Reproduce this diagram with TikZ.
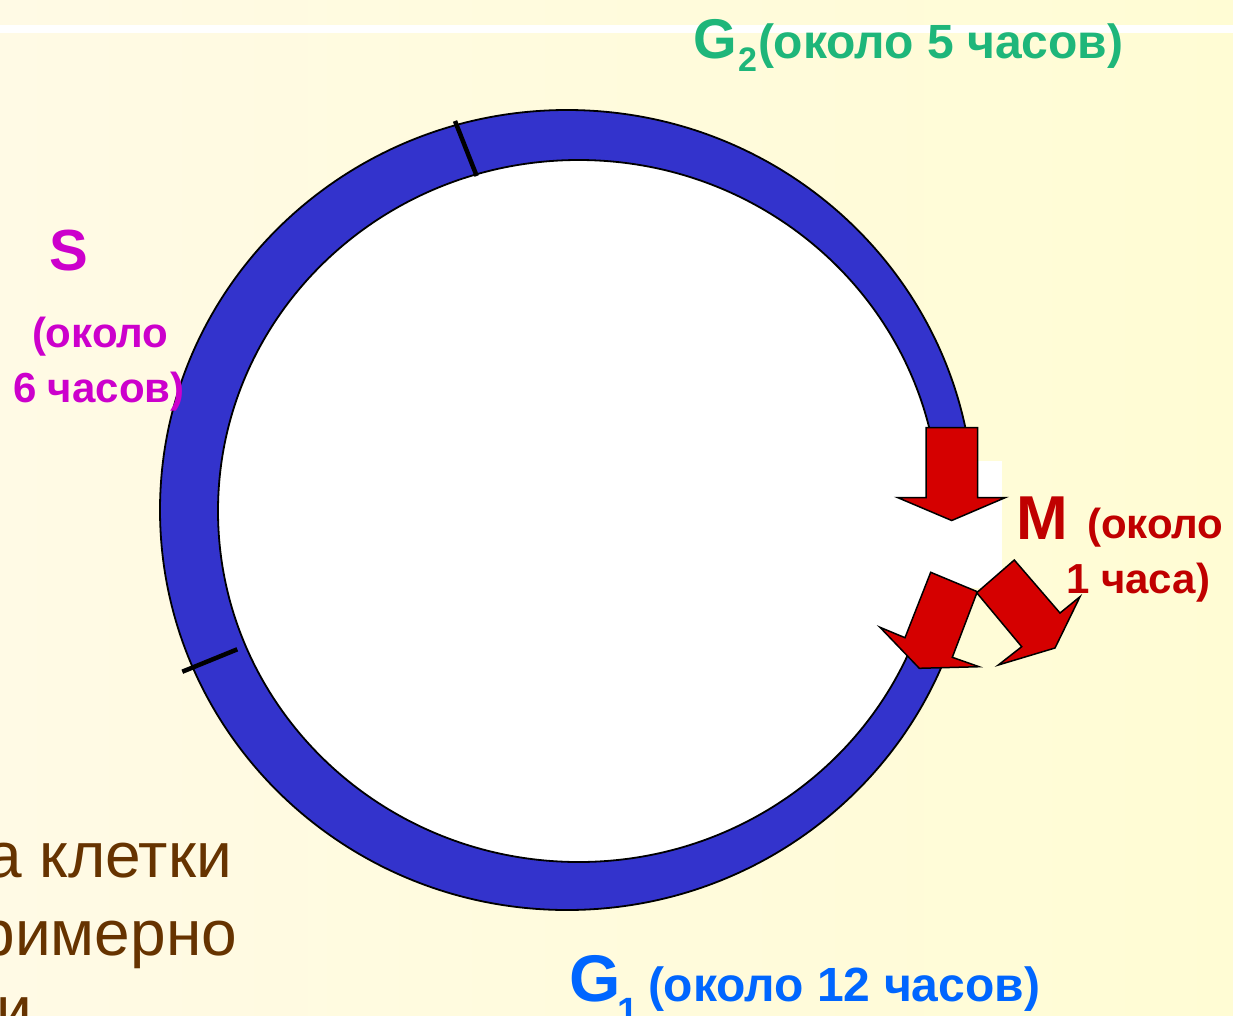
\documentclass[tikz,border=0pt]{standalone}
\usepackage{fontspec}
\setmainfont{Liberation Sans}
\definecolor{bgleft}{RGB}{255,250,229}
\definecolor{bgright}{RGB}{255,252,212}
\definecolor{ringblue}{RGB}{51,51,204}
\definecolor{arrowred}{RGB}{213,0,0}
\definecolor{gtwo}{RGB}{30,182,122}
\definecolor{sviolet}{RGB}{204,0,204}
\definecolor{mred}{RGB}{192,0,0}
\definecolor{gone}{RGB}{0,102,255}
\definecolor{brown}{RGB}{102,51,0}
\tikzset{
  lbl/.style={inner sep=0pt, outer sep=0pt, font=\bfseries},
  brn/.style={inner sep=0pt, outer sep=0pt, text=brown, font=\fontsize{64}{70}\selectfont},
  redarrow/.style={fill=arrowred, draw=black, line width=1.5pt, line join=miter},
  tick/.style={draw=black, line width=4.5pt}
}
\newcommand{\fsz}[1]{\fontsize{#1}{#1}\selectfont}
\begin{document}
\begin{tikzpicture}[x=1pt,y=-1pt]
\useasboundingbox (0,0) rectangle (1233,1015);
% background
\shade[left color=bgleft, right color=bgright] (0,0) rectangle (1233,1015);
\fill[white] (0,25) rectangle (1233,33);
% brown text, cut by the page edge
\begin{scope}
\clip (0,0) rectangle (1233,1015);
\node[brn, anchor=base east] (t1) at (232,877) {а клетки};
\node[brn, anchor=base east] (t2) at (237,955) {примерно};
\node[brn, anchor=base east] (t3) at (32,1031) {и};
\end{scope}
% ring
\draw[fill=ringblue, draw=black, line width=1.8pt] (567,510) ellipse [x radius=407pt, y radius=400pt];
\draw[fill=white, draw=black, line width=1.8pt] (578.7,511) ellipse [x radius=360.7pt, y radius=351pt];
% phase ticks
\draw[tick] (455,121) -- (476.7,176);
\draw[tick] (182.3,671.7) -- (237.3,649.3);
% white patch behind M arrows
\fill[white] (880,461) rectangle (1002,588);
% arrows
\draw[redarrow] (926,427.5) -- (977.5,427.5) -- (977.5,497.5) -- (1005.5,497.5) -- (951.7,520.5) -- (897.5,497.5) -- (926,497.5) -- cycle;
\draw[redarrow] (930.7,572.3) -- (977.3,591.7) -- (952.3,657.3) -- (979,666.7) -- (919.3,668.3) -- (880,627.3) -- (905,637.7) -- cycle;
\draw[redarrow] (1014.3,560) -- (1060,613) -- (1080,596.7) -- (1055,648) -- (998.3,665) -- (1021.7,646.7) -- (976.7,592.7) -- cycle;
% labels
\node[lbl, text=gtwo, anchor=base west] (g2G) at (693,58) {\fsz{56}G};
\node[lbl, text=gtwo, anchor=base west] (g2s) at (738,71) {\fsz{34}2};
\node[lbl, text=gtwo, anchor=base west] (g2t) at (758,58) {\fsz{48}(около 5 часов)};
\node[lbl, text=sviolet, anchor=base] (sS) at (69,270) {\fsz{58}S};
\node[lbl, text=sviolet, anchor=base west] (s1) at (32,347) {\fsz{42}(около};
\node[lbl, text=sviolet, anchor=base west] (s2) at (13,402) {\fsz{42}6 часов)};
\node[lbl, text=mred, anchor=base west] (mM) at (1016,539) {\fsz{62}M};
\node[lbl, text=mred, anchor=base west] (m1) at (1087,538) {\fsz{42}(около};
\node[lbl, text=mred, anchor=base west] (m2) at (1066,593) {\fsz{42}1 часа)};
\node[lbl, text=gone, anchor=base west] (g1G) at (569,1001) {\fsz{66}G};
\node[lbl, text=gone, anchor=base west] (g1s) at (617,1024) {\fsz{38}1};
\node[lbl, text=gone, anchor=base west] (g1t) at (648,1001) {\fsz{48}(около 12 часов)};
\end{tikzpicture}
\end{document}
